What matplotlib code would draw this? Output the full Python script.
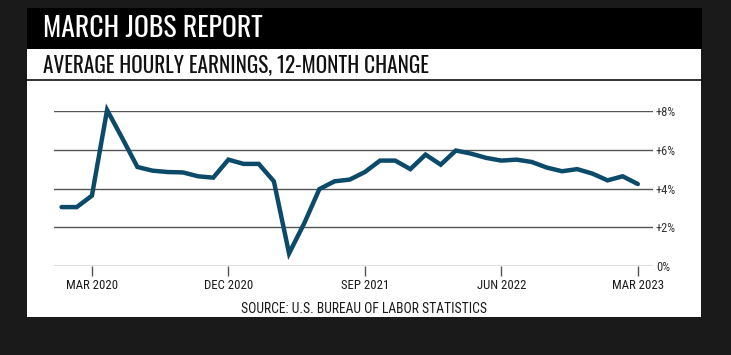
import matplotlib
matplotlib.use('Agg')
import matplotlib.pyplot as plt
from matplotlib import font_manager
from matplotlib.patches import Rectangle
from matplotlib.lines import Line2D

# months since Jan 2020 and 12-month change in average hourly earnings (%)
months = list(range(39))
wage_growth = [3.04, 3.04, 3.63, 8.05, 6.6, 5.11, 4.92, 4.85, 4.83, 4.63, 4.56, 5.49,
               5.27, 5.27, 4.37, 0.65, 2.2, 3.97, 4.37, 4.46, 4.85, 5.44, 5.44, 5.0,
               5.75, 5.23, 5.96, 5.8, 5.58, 5.44, 5.49, 5.37, 5.08, 4.89, 5.0, 4.77,
               4.42, 4.63, 4.23]
tick_months = [2, 11, 20, 29, 38]
tick_labels = ['MAR 2020', 'DEC 2020', 'SEP 2021', 'JUN 2022', 'MAR 2023']
y_ticks = [0, 2, 4, 6, 8]
y_labels = ['0%', '+2%', '+4%', '+6%', '+8%']

installed = {f.name for f in font_manager.fontManager.ttflist}


def pick(*names):
    for n in names:
        if n in installed:
            return n
    return 'DejaVu Sans'


head_font = pick('Oswald', 'Antonio', 'Barlow Condensed', 'Roboto Condensed', 'Archivo Narrow')
label_font = pick('Roboto Condensed', 'Archivo Narrow', 'Barlow Semi Condensed', 'Liberation Sans')

W, H = 731, 355
line_color = '#0c4a69'
grid_color = '#555555'
text_color = '#1a1a1a'

fig = plt.figure(figsize=(W / 100, H / 100), dpi=100, facecolor='#1a1a1a')


def fx(px):
    return px / W


def fy(py):
    return 1 - py / H


# white card and black title bar
fig.patches.append(Rectangle((fx(27), fy(317)), fx(701) - fx(27), fy(8) - fy(317),
                             transform=fig.transFigure, facecolor='white',
                             edgecolor='none', zorder=-3))
fig.patches.append(Rectangle((fx(27), fy(49)), fx(702) - fx(27), fy(8) - fy(49),
                             transform=fig.transFigure, facecolor='black',
                             edgecolor='none', zorder=-2))
fig.lines.append(Line2D([fx(27), fx(701)], [fy(80), fy(80)], transform=fig.transFigure,
                        color='#111111', linewidth=1.2, zorder=-1))

fig.text(fx(43), fy(37), 'MARCH JOBS REPORT', color='white', fontsize=20,
         fontweight='medium', family=head_font, va='baseline', ha='left')
fig.text(fx(43), fy(72), 'AVERAGE HOURLY EARNINGS, 12-MONTH CHANGE', color='#111111',
         fontsize=15.3, family=head_font, fontweight='light', va='baseline', ha='left')
fig.text(fx(364), fy(313), 'SOURCE: U.S. BUREAU OF LABOR STATISTICS', color=text_color,
         fontsize=9.8, family=label_font, va='baseline', ha='center')

# chart
ax = fig.add_axes([fx(54), fy(266), fx(653) - fx(54), fy(111) - fy(266)])
ax.patch.set_alpha(0)
for y in y_ticks:
    ax.axhline(y, color=grid_color, linewidth=1, zorder=1)
ax.plot(months, wage_growth, color=line_color, linewidth=3.2,
        solid_joinstyle='miter', solid_capstyle='round', clip_on=False, zorder=3)

ax.set_xlim(-0.5, 39.0)
ax.set_ylim(0, 8)
ax.set_xticks(tick_months)
ax.set_xticklabels(tick_labels, family=label_font, fontsize=9.2, color=text_color)
ax.tick_params(axis='x', direction='out', length=7, width=1, color=grid_color, pad=2.5)

ax.yaxis.tick_right()
ax.set_yticks(y_ticks)
ax.set_yticklabels(y_labels, family=label_font, fontsize=9, color='#333333')
ax.tick_params(axis='y', length=0, pad=2)

for side in ['top', 'bottom', 'left', 'right']:
    ax.spines[side].set_visible(False)

fig.savefig('out.png', dpi=100, facecolor=fig.get_facecolor())
